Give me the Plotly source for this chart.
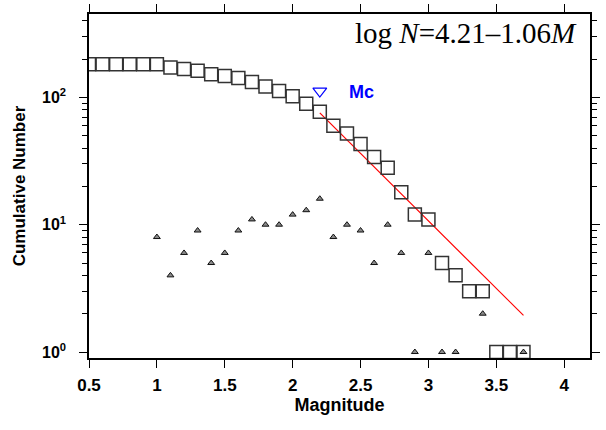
import plotly.graph_objects as go

# Data
magnitude = [0.5, 0.6, 0.7, 0.8, 0.9, 1.0, 1.1, 1.2, 1.3, 1.4, 1.5, 1.6, 1.7, 1.8,
             1.9, 2.0, 2.1, 2.2, 2.3, 2.4, 2.5, 2.6, 2.7, 2.8, 2.9, 3.0, 3.1, 3.2,
             3.3, 3.4, 3.5, 3.6, 3.7]
cumulative = [182, 182, 182, 182, 182, 182, 172, 167, 162, 152, 147, 142, 132, 122,
              112, 102, 89, 77, 60, 52, 43, 34, 28, 18, 12, 11, 5, 4,
              3, 3, 1, 1, 1]
noncum_m = [1.0, 1.1, 1.2, 1.3, 1.4, 1.5, 1.6, 1.7, 1.8, 1.9, 2.0, 2.1, 2.2, 2.3,
            2.4, 2.5, 2.6, 2.7, 2.8, 2.9, 3.0, 3.1, 3.2, 3.4, 3.7]
noncum_n = [8, 4, 6, 9, 5, 6, 9, 11, 10, 10, 12, 13, 16, 8,
            10, 9, 5, 10, 6, 1, 6, 1, 1, 2, 1]
fit_m = [2.2, 3.7]
fit_n = [75.5, 1.94]
mc_m = [2.2]
mc_n = [112]
xtick_vals = [0.5, 1, 1.5, 2, 2.5, 3, 3.5, 4]
xtick_text = ["0.5", "1", "1.5", "2", "2.5", "3", "3.5", "4"]
ytick_vals = [1, 10, 100]
ytick_text = ["10<sup>0</sup>", "10<sup>1</sup>", "10<sup>2</sup>"]
yminor_vals = [2, 3, 4, 5, 6, 7, 8, 9, 20, 30, 40, 50, 60, 70, 80, 90, 200, 300, 400]

fig = go.Figure()
fig.add_trace(go.Scatter(x=fit_m, y=fit_n, mode="lines",
                         line=dict(color="#ff0000", width=1.2), showlegend=False))
fig.add_trace(go.Scatter(x=magnitude, y=cumulative, mode="markers",
                         marker=dict(symbol="square-open", size=13,
                                     color="#333333", line=dict(width=1.5)),
                         showlegend=False))
fig.add_trace(go.Scatter(x=noncum_m, y=noncum_n, mode="markers",
                         marker=dict(symbol="triangle-up", size=6, color="#8a8a8a",
                                     line=dict(color="#111111", width=1)),
                         showlegend=False))
fig.add_trace(go.Scatter(x=mc_m, y=mc_n, mode="markers",
                         marker=dict(symbol="triangle-down-open", size=12,
                                     color="#0000ff", line=dict(width=1.2)),
                         showlegend=False))

fig.add_annotation(x=2.51, y=2.045, xref="x", yref="y", text="<b>Mc</b>",
                   showarrow=False, font=dict(family="Liberation Sans, Arial", size=18,
                                              color="#0000ff"))
fig.add_annotation(x=0.978, y=0.945, xref="paper", yref="paper",
                   text="log <i>N</i>=4.21\u20131.06<i>M</i>", showarrow=False,
                   xanchor="right", yanchor="middle",
                   font=dict(family="Liberation Serif, Times New Roman", size=29,
                             color="#000000"))

xfont = dict(family="Liberation Sans, Arial", size=17, color="#000000")
fig.update_xaxes(range=[0.5, 4.19], tickvals=xtick_vals,
                 ticktext=["<b>%s</b>" % t for t in xtick_text],
                 ticks="outside", ticklen=8, tickwidth=1.2, tickcolor="#000",
                 showline=True, linecolor="#000", linewidth=1.5, mirror="ticks",
                 showgrid=False, zeroline=False, tickfont=xfont,
                 ticklabelstandoff=3, automargin=False,
                 title=dict(text="<b>Magnitude</b>",
                            font=dict(family="Liberation Sans, Arial", size=18,
                                      color="#000"), standoff=4))
fig.update_yaxes(type="log", range=[-0.047, 2.655], tickvals=ytick_vals,
                 ticktext=["<b>%s</b>" % t for t in ytick_text],
                 ticks="outside", ticklen=8, tickwidth=1.2, tickcolor="#000",
                 minor=dict(tickvals=yminor_vals, ticks="outside", ticklen=5,
                            tickwidth=1, tickcolor="#000", showgrid=False),
                 showline=True, linecolor="#000", linewidth=1.5, mirror="ticks",
                 showgrid=False, zeroline=False, automargin=False,
                 tickfont=dict(family="Liberation Sans, Arial", size=16, color="#000"),
                 ticklabelstandoff=10,
                 title=dict(text="<b>Cumulative Number</b>",
                            font=dict(family="Liberation Sans, Arial", size=17,
                                      color="#000"), standoff=12))

fig.update_layout(width=606, height=430, margin=dict(l=89, r=16, t=14, b=72),
                  paper_bgcolor="white", plot_bgcolor="white")
fig.write_html("out.html")
